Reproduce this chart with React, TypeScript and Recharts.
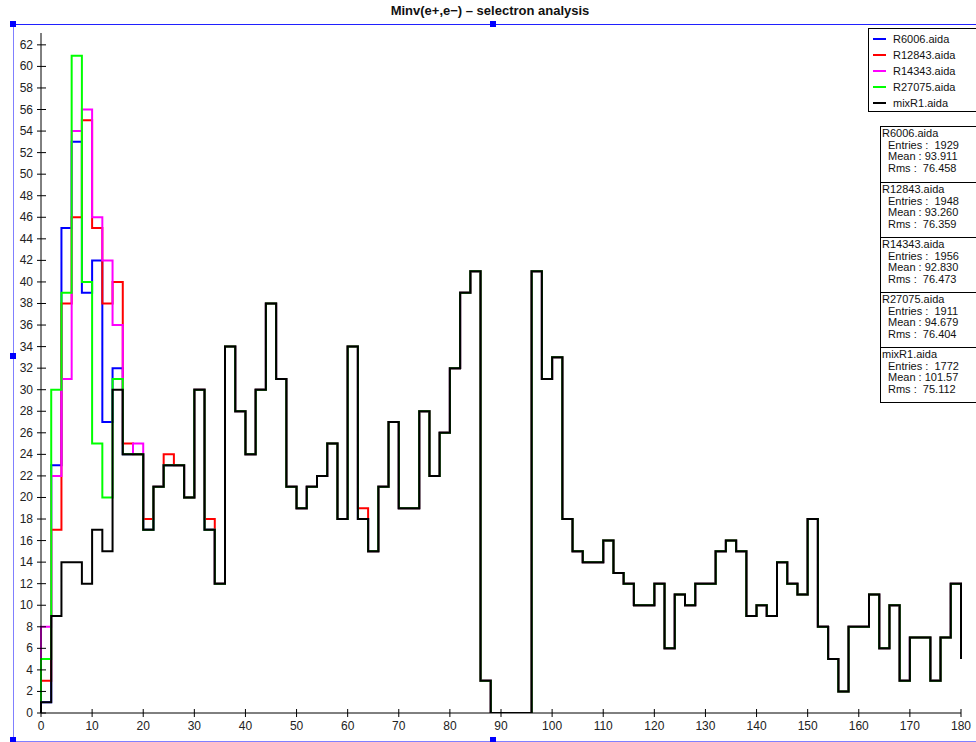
import React from 'react';
import { LineChart, Line, XAxis, YAxis } from 'recharts';

// histogram bins are 2 units wide, first bin starts at 0
const BIN_WIDTH = 2;

// mixR1.aida, one value per bin (0..180)
const mixR1 = [
    1, 9, 14, 14, 12, 17, 15, 30, 24, 24,
    17, 21, 23, 23, 20, 30, 17, 12, 34, 28,
    24, 30, 38, 31, 21, 19, 21, 22, 25, 18,
    34, 18, 15, 21, 27, 19, 19, 28, 22, 26,
    32, 39, 41, 3, 0, 0, 0, 0, 41, 31,
    33, 18, 15, 14, 14, 16, 13, 12, 10, 10,
    12, 6, 11, 10, 12, 12, 15, 16, 15, 9,
    10, 9, 14, 12, 11, 18, 8, 5, 2, 8,
    8, 11, 6, 10, 3, 7, 7, 3, 7, 12,
];
// value drawn at the right edge (x = 180)
const endValue = 5;

// the other runs differ from mixR1 only in the first bins
const r6006Head = [1, 23, 45, 53, 39, 42, 27, 32];
const r12843Head = [
    3, 17, 38, 46, 55, 45, 38, 40, 25, 24,
    18, 21, 24, 23, 20, 30, 18, 12, 34, 28,
    24, 30, 38, 31, 21, 19, 21, 22, 25, 18,
    34, 19,
];
const r14343Head = [8, 22, 31, 54, 56, 46, 42, 36, 24, 25];
const r27075Head = [5, 30, 39, 61, 40, 25, 20, 31];

const xTicks = [0, 10, 20, 30, 40, 50, 60, 70, 80, 90, 100, 110, 120, 130, 140, 150, 160, 170, 180];
const yTicks = [0, 2, 4, 6, 8, 10, 12, 14, 16, 18, 20, 22, 24, 26, 28, 30, 32, 34, 36, 38, 40, 42, 44, 46, 48, 50, 52, 54, 56, 58, 60, 62];

const seriesInfo = [
    { key: 'r6006', name: 'R6006.aida', color: '#0000ff', head: r6006Head, entries: '1929', mean: '93.911', rms: '76.458' },
    { key: 'r12843', name: 'R12843.aida', color: '#ff0000', head: r12843Head, entries: '1948', mean: '93.260', rms: '76.359' },
    { key: 'r14343', name: 'R14343.aida', color: '#ff00ff', head: r14343Head, entries: '1956', mean: '92.830', rms: '76.473' },
    { key: 'r27075', name: 'R27075.aida', color: '#00ff00', head: r27075Head, entries: '1911', mean: '94.679', rms: '76.404' },
    { key: 'mix', name: 'mixR1.aida', color: '#000000', head: mixR1, entries: '1772', mean: '101.57', rms: '75.112' },
];

const FONT = '"Liberation Sans", Arial, Helvetica, sans-serif';

// build the step table: start at 0, one row per bin edge, then the closing edge
const buildRows = () => {
    const rows: any[] = [];
    const first: any = { x: 0 };
    seriesInfo.forEach(s => { first[s.key] = 0; });
    rows.push(first);
    mixR1.forEach((v, i) => {
        const row: any = { x: i * BIN_WIDTH };
        seriesInfo.forEach(s => {
            row[s.key] = i < s.head.length ? s.head[i] : v;
        });
        rows.push(row);
    });
    const last: any = { x: mixR1.length * BIN_WIDTH };
    seriesInfo.forEach(s => { last[s.key] = endValue; });
    rows.push(last);
    return rows;
};

const data = buildRows();

const YTick = (props: any) => {
    const { x, y, payload } = props;
    return (
        <g>
            <line x1={x - 4} x2={x + 5} y1={y} y2={y} stroke="#000" strokeWidth={1} />
            <text x={x - 8} y={y + 4} textAnchor="end" fontSize={12} fontFamily={FONT} fill="#222">
                {payload.value}
            </text>
        </g>
    );
};

const XTick = (props: any) => {
    const { x, y, payload } = props;
    return (
        <g>
            <line x1={x} x2={x} y1={y - 4} y2={y + 4} stroke="#000" strokeWidth={1} />
            <text x={x} y={y + 17} textAnchor="middle" fontSize={12} fontFamily={FONT} fill="#222">
                {payload.value}
            </text>
        </g>
    );
};

const Handle = ({ left, top }: { left: number; top: number }) => (
    <div style={{ position: 'absolute', left: left - 3, top: top - 3, width: 6, height: 6, background: '#0000ff' }} />
);

const App: React.FC = () => {
    return (
        <div style={{ position: 'absolute', left: 0, top: 0, width: 976, height: 742, background: '#fff', fontFamily: FONT, overflow: 'hidden' }}>
            {/* title */}
            <div style={{ position: 'absolute', left: 0, top: 3, width: 980, textAlign: 'center', fontSize: 13, fontWeight: 'bold', color: '#111' }}>
                Minv(e+,e−) – selectron analysis
            </div>

            {/* selection frame */}
            <div style={{ position: 'absolute', left: 13, top: 24, width: 980, height: 716, borderTop: '1px solid #2020ff', borderLeft: '1px solid #8080ff', borderBottom: '1px solid #8080ff' }} />
            <Handle left={13} top={24} />
            <Handle left={493} top={24} />
            <Handle left={13} top={356} />
            <Handle left={13} top={740} />
            <Handle left={493} top={740} />

            <div style={{ position: 'absolute', left: 0, top: 0 }}>
                <LineChart width={976} height={742} data={data} margin={{ top: 33, right: 15, bottom: 4, left: 13 }}>
                    <XAxis
                        dataKey="x"
                        type="number"
                        domain={[0, 180]}
                        ticks={xTicks}
                        height={25}
                        tickSize={0}
                        tickMargin={0}
                        tickLine={false}
                        axisLine={{ stroke: '#000', strokeWidth: 1 }}
                        tick={<XTick />}
                        interval={0}
                    />
                    <YAxis
                        type="number"
                        domain={[0, 63.1]}
                        ticks={yTicks}
                        width={28}
                        tickSize={0}
                        tickMargin={0}
                        tickLine={false}
                        axisLine={{ stroke: '#000', strokeWidth: 1 }}
                        tick={<YTick />}
                        interval={0}
                        allowDataOverflow
                    />
                    {seriesInfo.map(s => (
                        <Line
                            key={s.key}
                            type="stepAfter"
                            dataKey={s.key}
                            stroke={s.color}
                            strokeWidth={2}
                            dot={false}
                            activeDot={false}
                            isAnimationActive={false}
                        />
                    ))}
                </LineChart>
            </div>

            {/* legend */}
            <div style={{ position: 'absolute', left: 868, top: 28, width: 110, height: 82, border: '1px solid #000', background: '#fff' }}>
                {seriesInfo.map((s, i) => (
                    <div key={s.key} style={{ position: 'absolute', left: 0, top: 2 + i * 16, height: 16, display: 'flex', alignItems: 'center' }}>
                        <div style={{ width: 13, height: 2, background: s.color, marginLeft: 4, marginRight: 7 }} />
                        <span style={{ fontSize: 11, color: '#111', whiteSpace: 'nowrap' }}>{s.name}</span>
                    </div>
                ))}
            </div>

            {/* statistics box */}
            <div style={{ position: 'absolute', left: 880, top: 126, width: 100, border: '1px solid #000', background: '#fff' }}>
                {seriesInfo.map((s, i) => (
                    <div key={s.key} style={{ borderTop: i === 0 ? 'none' : '1px solid #000', fontSize: 11, lineHeight: '11.7px', color: '#111', padding: '1px 0 0 1px', height: 55, boxSizing: 'border-box' }}>
                        <div>{s.name}</div>
                        <div style={{ paddingLeft: 6 }}>Entries :&nbsp; {s.entries}</div>
                        <div style={{ paddingLeft: 6 }}>Mean : {s.mean}</div>
                        <div style={{ paddingLeft: 6 }}>Rms :&nbsp; {s.rms}</div>
                    </div>
                ))}
            </div>
        </div>
    );
};

export default App;
